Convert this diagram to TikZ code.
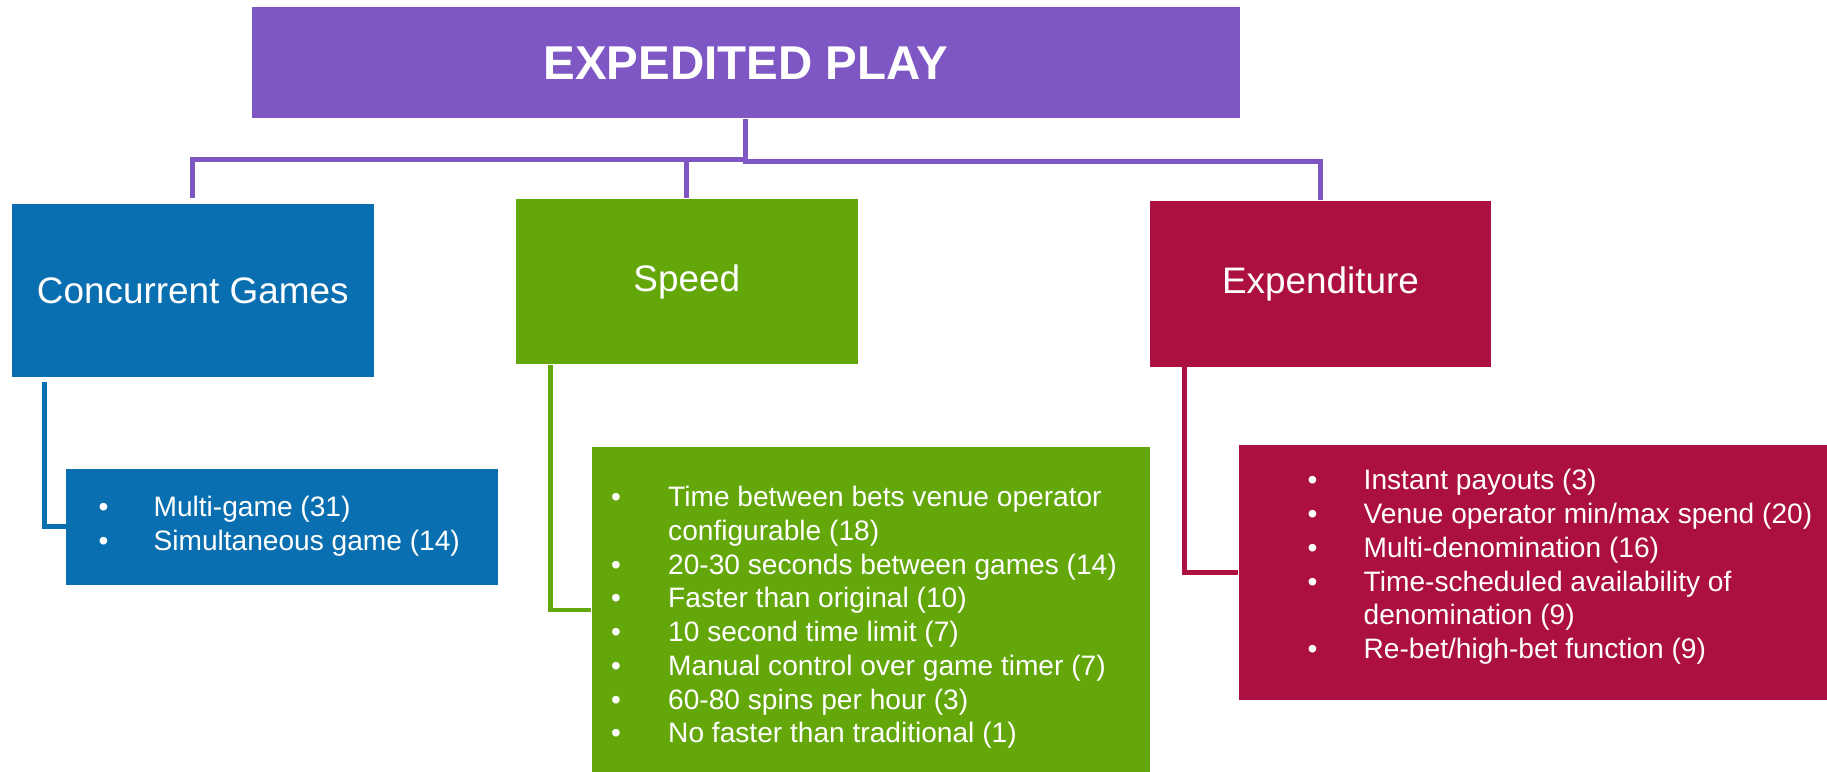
\documentclass[tikz,border=0pt]{standalone}
\usepackage{fontspec}
\setmainfont{Liberation Sans}
\definecolor{playpurple}{HTML}{7E57C5}
\definecolor{playblue}{HTML}{0A6FB0}
\definecolor{playgreen}{HTML}{63A70A}
\definecolor{playred}{HTML}{AC1041}
\newcommand{\bitem}{\textbullet &}

\begin{document}
\begin{tikzpicture}[
  box/.style={inner sep=0pt,text=white,font=\fontsize{10.5}{12.6}\selectfont},
  listtext/.style={inner sep=0pt,text=white,anchor=base west,font=\fontsize{8}{9.6}\selectfont},
  link/.style={line width=1.4pt}]
  \useasboundingbox (0,0) rectangle (18.27,-7.72);
  \clip (0,0) rectangle (18.27,-7.72);
  % heading and the three groups
  \node[box,fill=playpurple,minimum width=9.88cm,minimum height=1.107cm,font=\bfseries\fontsize{13.5}{16}\selectfont] (play) at (7.456,-0.627) {EXPEDITED PLAY};
  \node[box,fill=playblue,minimum width=3.623cm,minimum height=1.727cm] (conc) at (1.9285,-2.9035) {Concurrent Games};
  \node[box,fill=playgreen,minimum width=3.415cm,minimum height=1.653cm] (speed) at (6.8675,-2.8165) {Speed};
  \node[box,fill=playred,minimum width=3.41cm,minimum height=1.657cm] (spend) at (13.205,-2.8385) {Expenditure};
  \draw[link,playpurple,shorten >=0.05cm] (play.south) -- ++(0,-0.405) -| (conc.north);
  \draw[link,playpurple] (play.south) -- ++(0,-0.405) -| (speed.north);
  \draw[link,playpurple] (play.south) -- ++(0,-0.43) -| (spend.north);
  % detail boxes
  \node[box,fill=playblue,minimum width=4.311cm,minimum height=1.163cm] (concsub) at (2.8195,-5.2685) {};
  \node[box,fill=playgreen,minimum width=5.582cm,minimum height=3.25cm] (speedsub) at (8.709,-6.10) {};
  \node[box,fill=playred,minimum width=6.415cm,minimum height=2.55cm] (spendsub) at (15.5925,-5.725) {};
  \draw[link,playblue,shorten <=0.05cm] ([xshift=0.338cm]conc.south west) |- (concsub.west);
  \draw[link,playgreen] ([xshift=0.35cm]speed.south west) |- (speedsub.west);
  \draw[link,playred] ([xshift=0.35cm]spend.south west) |- (spendsub.west);
  \node[listtext] (conclist) at (0.979,-5.167) {\begin{tabular}[t]{@{}p{0.55cm}@{}l@{}}
    \bitem Multi-game (31)\\
    \bitem Simultaneous game (14)
  \end{tabular}};
  \node[listtext] (speedlist) at (6.105,-5.067) {\begin{tabular}[t]{@{}p{0.57cm}@{}l@{}}
    \bitem Time between bets venue operator\\
    & configurable (18)\\
    \bitem 20-30 seconds between games (14)\\
    \bitem Faster than original (10)\\
    \bitem 10 second time limit (7)\\
    \bitem Manual control over game timer (7)\\
    \bitem 60-80 spins per hour (3)\\
    \bitem No faster than traditional (1)
  \end{tabular}};
  \node[listtext] (spendlist) at (13.07,-4.90) {\begin{tabular}[t]{@{}p{0.56cm}@{}l@{}}
    \bitem Instant payouts (3)\\
    \bitem Venue operator min/max spend (20)\\
    \bitem Multi-denomination (16)\\
    \bitem Time-scheduled availability of\\
    & denomination (9)\\
    \bitem Re-bet/high-bet function (9)
  \end{tabular}};
\end{tikzpicture}
\end{document}
